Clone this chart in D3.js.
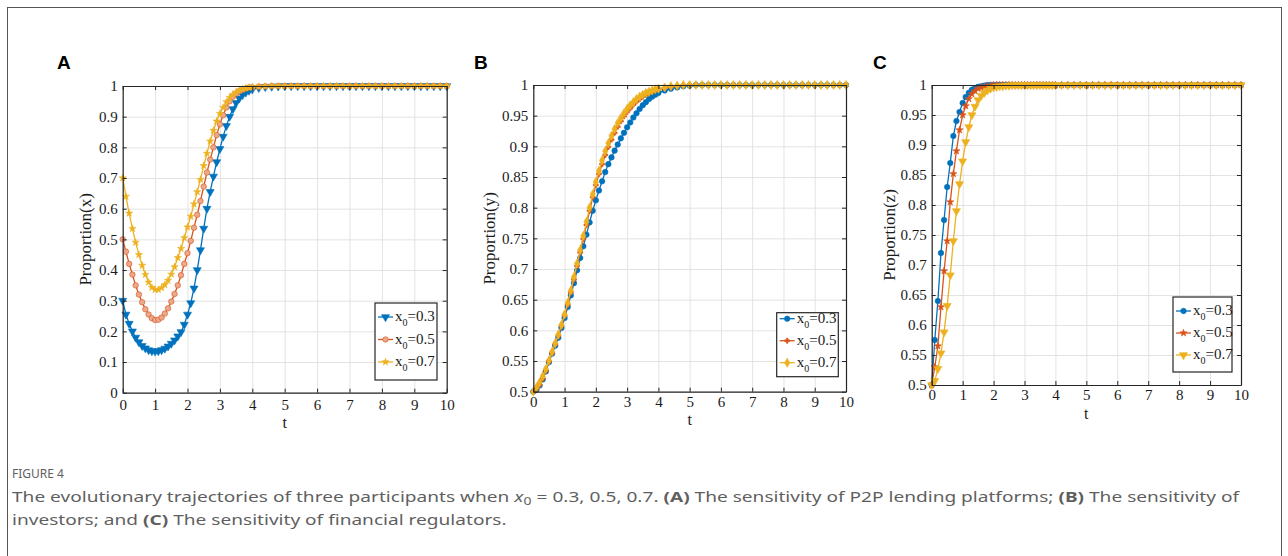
<!DOCTYPE html>
<html>
<head>
<meta charset="utf-8">
<script src="https://cdn.jsdelivr.net/npm/d3@7"></script>
<style>
  body { margin: 0; background: #fff; }
  svg { display: block; }
</style>
</head>
<body>
<div id="chart"></div>
<script>
// time points of the solver output (shared by every series)
var tGrid = [0,0.1,0.2,0.3,0.4,0.5,0.6,0.7,0.8,0.9,1,1.1,1.2,1.3,1.4,1.5,1.6,1.7,1.8,1.9,
  2,2.1,2.2,2.3,2.4,2.5,2.6,2.7,2.8,2.9,3,3.1,3.2,3.3,3.4,3.5,3.6,3.7,3.8,3.9,4,
  4.2,4.4,4.6,4.8,5,5.2,5.4,5.6,5.8,6,6.2,6.4,6.6,6.8,7,7.2,7.4,7.6,7.8,8,
  8.2,8.4,8.6,8.8,9,9.2,9.4,9.6,9.8,10];

var legendLabels = ["0.3", "0.5", "0.7"];
var tTicks = [0,1,2,3,4,5,6,7,8,9,10];
var yTicksA = [0,0.1,0.2,0.3,0.4,0.5,0.6,0.7,0.8,0.9,1];
var yTicksBC = [0.5,0.55,0.6,0.65,0.7,0.75,0.8,0.85,0.9,0.95,1];

// (A) Proportion(x)
var aX03 = [0.30,0.255,0.225,0.2,0.18,0.165,0.153,0.145,0.139,0.136,0.135,0.136,0.139,0.144,0.151,0.16,0.171,0.184,0.198,0.222,
  0.255,0.292,0.34,0.40,0.465,0.535,0.60,0.655,0.705,0.752,0.795,0.835,0.87,0.90,0.925,0.945,0.96,0.971,0.979,0.985,0.989,
  0.994,0.997,0.998,0.999,1,1,1,1,1,1,1,1,1,1,1,1,1,1,1,1,1,1,1,1,1,1,1,1,1,1];
var aX05 = [0.5,0.46,0.42,0.385,0.35,0.32,0.295,0.272,0.255,0.243,0.237,0.238,0.245,0.258,0.275,0.297,0.322,0.35,0.383,0.42,
  0.455,0.495,0.538,0.58,0.625,0.672,0.718,0.76,0.80,0.84,0.875,0.905,0.93,0.95,0.965,0.975,0.983,0.988,0.992,0.995,0.996,
  0.998,0.999,1,1,1,1,1,1,1,1,1,1,1,1,1,1,1,1,1,1,1,1,1,1,1,1,1,1,1,1];
var aX07 = [0.7,0.64,0.585,0.535,0.49,0.45,0.415,0.385,0.36,0.343,0.336,0.336,0.342,0.352,0.366,0.386,0.41,0.44,0.47,0.505,
  0.54,0.575,0.615,0.655,0.695,0.74,0.78,0.82,0.855,0.885,0.91,0.93,0.948,0.962,0.972,0.98,0.986,0.99,0.993,0.995,0.997,
  0.998,0.999,1,1,1,1,1,1,1,1,1,1,1,1,1,1,1,1,1,1,1,1,1,1,1,1,1,1,1,1];

// (B) Proportion(y)
var bX03 = [0.5,0.503,0.51,0.52,0.533,0.548,0.562,0.575,0.588,0.604,0.62,0.638,0.657,0.677,0.698,0.718,0.737,0.756,0.776,0.795,
  0.812,0.828,0.843,0.858,0.871,0.882,0.893,0.903,0.913,0.922,0.931,0.939,0.947,0.954,0.961,0.967,0.972,0.977,0.981,0.984,0.987,
  0.991,0.994,0.996,0.998,0.999,1,1,1,1,1,1,1,1,1,1,1,1,1,1,1,1,1,1,1,1,1,1,1,1,1];
var bX05 = [0.5,0.504,0.511,0.521,0.534,0.549,0.563,0.577,0.591,0.607,0.624,0.642,0.662,0.683,0.705,0.727,0.749,0.772,0.795,0.817,
  0.837,0.855,0.871,0.886,0.899,0.911,0.922,0.932,0.941,0.949,0.956,0.962,0.968,0.973,0.977,0.981,0.984,0.987,0.989,0.991,0.993,
  0.995,0.997,0.998,0.999,1,1,1,1,1,1,1,1,1,1,1,1,1,1,1,1,1,1,1,1,1,1,1,1,1,1];
var bX07 = [0.5,0.507,0.515,0.525,0.537,0.551,0.565,0.579,0.593,0.609,0.626,0.645,0.665,0.687,0.709,0.731,0.754,0.777,0.80,0.822,
  0.842,0.86,0.877,0.892,0.905,0.917,0.928,0.938,0.946,0.954,0.961,0.967,0.972,0.977,0.981,0.984,0.987,0.989,0.991,0.993,0.994,
  0.996,0.998,0.999,1,1,1,1,1,1,1,1,1,1,1,1,1,1,1,1,1,1,1,1,1,1,1,1,1,1,1];

// (C) Proportion(z)
var cX03 = [0.5,0.575,0.64,0.72,0.775,0.83,0.87,0.915,0.94,0.955,0.97,0.98,0.987,0.992,0.995,0.997,0.998,0.999,1,1,
  1,1,1,1,1,1,1,1,1,1,1,1,1,1,1,1,1,1,1,1,1,
  1,1,1,1,1,1,1,1,1,1,1,1,1,1,1,1,1,1,1,1,1,1,1,1,1,1,1,1,1,1];
var cX05 = [0.5,0.53,0.565,0.63,0.69,0.74,0.805,0.852,0.89,0.925,0.95,0.965,0.977,0.985,0.99,0.994,0.996,0.997,0.998,0.999,
  1,1,1,1,1,1,1,1,1,1,1,1,1,1,1,1,1,1,1,1,1,
  1,1,1,1,1,1,1,1,1,1,1,1,1,1,1,1,1,1,1,1,1,1,1,1,1,1,1,1,1,1];
var cX07 = [0.5,0.507,0.527,0.553,0.588,0.632,0.683,0.74,0.79,0.835,0.873,0.905,0.93,0.95,0.964,0.975,0.982,0.987,0.991,0.994,
  0.996,0.997,0.998,0.998,0.999,0.999,1,1,1,1,1,1,1,1,1,1,1,1,1,1,1,
  1,1,1,1,1,1,1,1,1,1,1,1,1,1,1,1,1,1,1,1,1,1,1,1,1,1,1,1,1,1];

var colors = ["#0072BD", "#D95319", "#EDB120"];
var serif = "'Liberation Serif', 'Times New Roman', serif";

var W = 1288, H = 556;

var svg = d3.select("#chart").append("svg")
  .attr("width", W)
  .attr("height", H);

svg.append("rect").attr("width", W).attr("height", H).style("fill", "white");

// outer figure frame
svg.append("rect")
  .attr("x", 7.5).attr("y", 7.5)
  .attr("width", 1274).attr("height", 600)
  .style("fill", "none")
  .style("stroke", "#555")
  .style("stroke-width", 1);

function symbolFor(name) {
  if (name == "tri") return d3.symbol().type(d3.symbolTriangle).size(28);
  if (name == "circle") return d3.symbol().type(d3.symbolCircle).size(24);
  if (name == "star") return d3.symbol().type(d3.symbolStar).size(16);
  if (name == "diamond") return d3.symbol().type(d3.symbolDiamond).size(24);
  if (name == "cross") return d3.symbol().type(d3.symbolCross).size(14);
  return d3.symbol().type(d3.symbolCircle).size(16);
}

function drawMarker(g, name, color, x, y) {
  g.append("path")
    .attr("d", symbolFor(name)())
    .attr("transform", "translate(" + x + "," + y + ")" + (name == "tri" ? " rotate(180)" : ""))
    .style("fill", name == "circle" && color == colors[1] ? "#eaa98a" : color)
    .style("stroke", color)
    .style("stroke-width", 0.6);
}

function panel(cfg) {
  var x = d3.scaleLinear().domain([0, 10]).range([cfg.left, cfg.right]);
  var y = d3.scaleLinear().domain(cfg.yDomain).range([cfg.bottom, cfg.top]);
  var w = cfg.right - cfg.left, h = cfg.bottom - cfg.top;

  var g = svg.append("g");

  // grid
  g.append("g")
    .attr("transform", "translate(0," + cfg.bottom + ")")
    .call(d3.axisBottom(x).tickValues(tTicks).tickSize(-h).tickFormat(""))
    .call(function(s) { s.select(".domain").remove(); })
    .selectAll("line").style("stroke", "#e3e3e3");
  g.append("g")
    .attr("transform", "translate(" + cfg.left + ",0)")
    .call(d3.axisLeft(y).tickValues(cfg.yTicks).tickSize(-w).tickFormat(""))
    .call(function(s) { s.select(".domain").remove(); })
    .selectAll("line").style("stroke", "#e3e3e3");

  // series
  var line = d3.line()
    .x(function(d) { return x(d[0]); })
    .y(function(d) { return y(d[1]); });

  cfg.series.forEach(function(vals, i) {
    var pts = tGrid.map(function(t, j) { return [t, vals[j]]; });
    g.append("path")
      .datum(pts)
      .attr("d", line)
      .style("fill", "none")
      .style("stroke", colors[i])
      .style("stroke-width", 1.3);
    var mk = g.append("g");
    pts.forEach(function(p) {
      drawMarker(mk, cfg.markers[i], colors[i], x(p[0]), y(p[1]));
    });
  });

  // axes with inward ticks on all four sides
  var axL = g.append("g")
    .attr("transform", "translate(" + cfg.left + ",0)")
    .call(d3.axisLeft(y).tickValues(cfg.yTicks).tickSizeInner(-4).tickSizeOuter(0).tickPadding(cfg.yPad)
      .tickFormat(function(d) { return String(+d.toFixed(2)); }));
  var axB = g.append("g")
    .attr("transform", "translate(0," + cfg.bottom + ")")
    .call(d3.axisBottom(x).tickValues(tTicks).tickSizeInner(-4).tickSizeOuter(0).tickPadding(cfg.xPad));
  var axR = g.append("g")
    .attr("transform", "translate(" + cfg.right + ",0)")
    .call(d3.axisRight(y).tickValues(cfg.yTicks).tickSizeInner(-4).tickSizeOuter(0).tickFormat(""));
  var axT = g.append("g")
    .attr("transform", "translate(0," + cfg.top + ")")
    .call(d3.axisTop(x).tickValues(tTicks).tickSizeInner(-4).tickSizeOuter(0).tickFormat(""));

  [axL, axB, axR, axT].forEach(function(a) {
    a.select(".domain").style("stroke", "#262626").style("stroke-width", 1.2);
    a.selectAll("line").style("stroke", "#262626");
    a.selectAll("text")
      .style("font-family", serif)
      .style("font-size", "15px")
      .style("fill", "#1a1a1a");
  });

  // axis labels
  g.append("text")
    .attr("transform", "translate(" + cfg.yLabelX + "," + ((cfg.top + cfg.bottom) / 2) + ") rotate(-90)")
    .attr("text-anchor", "middle")
    .style("font-family", serif)
    .style("font-size", "17px")
    .style("fill", "#1a1a1a")
    .text(cfg.yLabel);

  g.append("text")
    .attr("x", (cfg.left + cfg.right) / 2)
    .attr("y", cfg.tLabelY)
    .attr("text-anchor", "middle")
    .style("font-family", serif)
    .style("font-size", "16px")
    .style("fill", "#1a1a1a")
    .text("t");

  // panel letter
  svg.append("text")
    .attr("x", cfg.letterX)
    .attr("y", 69)
    .style("font-family", "'Liberation Sans', Arial, sans-serif")
    .style("font-weight", "bold")
    .style("font-size", "19px")
    .text(cfg.letter);

  // legend
  var lg = g.append("g");
  lg.append("rect")
    .attr("x", cfg.legend[0]).attr("y", cfg.legend[1])
    .attr("width", cfg.legend[2]).attr("height", cfg.legend[3])
    .style("fill", "white")
    .style("stroke", "#262626")
    .style("stroke-width", 1.2);
  legendLabels.forEach(function(lab, i) {
    var ly = cfg.legend[1] + cfg.legendPad + i * cfg.legendStep;
    var lx = cfg.legend[0] + 3;
    lg.append("line")
      .attr("x1", lx).attr("x2", lx + 15)
      .attr("y1", ly).attr("y2", ly)
      .style("stroke", colors[i])
      .style("stroke-width", 1.3);
    drawMarker(lg, cfg.markers[i], colors[i], lx + 7.5, ly);
    var tx = lg.append("text")
      .attr("x", lx + 17)
      .attr("y", ly + 4)
      .style("font-family", serif)
      .style("font-size", "15px")
      .style("fill", "#1a1a1a");
    tx.append("tspan").text("x");
    tx.append("tspan").attr("dy", 5).style("font-size", "10px").text("0");
    tx.append("tspan").attr("dy", -5).text("=" + lab);
  });
}

panel({
  letter: "A", letterX: 57,
  left: 122.7, right: 446.7, top: 86, bottom: 392.7,
  yDomain: [0, 1], yTicks: yTicksA, yPad: 5, xPad: 7,
  yLabel: "Proportion(x)", yLabelX: 91, tLabelY: 428,
  series: [aX03, aX05, aX07],
  markers: ["tri", "circle", "star"],
  legend: [375, 303, 62, 77], legendPad: 14, legendStep: 22.5
});

panel({
  letter: "B", letterX: 474,
  left: 533.3, right: 846, top: 85, bottom: 391.7,
  yDomain: [0.5, 1], yTicks: yTicksBC, yPad: 5, xPad: 5,
  yLabel: "Proportion(y)", yLabelX: 495, tLabelY: 425,
  series: [bX03, bX05, bX07],
  markers: ["circle", "cross", "diamond"],
  legend: [776.7, 312.7, 61.6, 64], legendPad: 6, legendStep: 22
});

panel({
  letter: "C", letterX: 873,
  left: 931.7, right: 1241, top: 85, bottom: 385,
  yDomain: [0.5, 1], yTicks: yTicksBC, yPad: 5, xPad: 4,
  yLabel: "Proportion(z)", yLabelX: 895, tLabelY: 419,
  series: [cX03, cX05, cX07],
  markers: ["circle", "star", "tri"],
  legend: [1173, 297, 59, 75], legendPad: 14, legendStep: 22
});

// caption
var capColor = "#5f5f5f";
var sans = "'Noto Sans', 'Open Sans', sans-serif";

svg.append("text")
  .attr("x", 12).attr("y", 478)
  .style("font-family", sans)
  .style("font-size", "12px")
  .style("fill", capColor)
  .text("FIGURE 4");

var cap1 = svg.append("text")
  .attr("y", 502)
  .style("font-family", sans)
  .style("font-size", "15px")
  .style("fill", capColor);
cap1.append("tspan").text("The evolutionary trajectories of three participants when ");
cap1.append("tspan").style("font-style", "italic").text("x");
cap1.append("tspan").attr("dy", 3).style("font-size", "11px").text("0");
cap1.append("tspan").attr("dy", -3).text(" = 0.3,  0.5,  0.7. ");
cap1.append("tspan").style("font-weight", "bold").text("(A)");
cap1.append("tspan").text(" The sensitivity of P2P lending platforms; ");
cap1.append("tspan").style("font-weight", "bold").text("(B)");
cap1.append("tspan").text(" The sensitivity of");

var cap2 = svg.append("text")
  .attr("y", 525)
  .style("font-family", sans)
  .style("font-size", "15px")
  .style("fill", capColor);
cap2.append("tspan").text("investors; and ");
cap2.append("tspan").style("font-weight", "bold").text("(C)");
cap2.append("tspan").text(" The sensitivity of financial regulators.");

// squeeze caption horizontally to the width it takes in the figure
var k = 1228 / cap1.node().getComputedTextLength();
[cap1, cap2].forEach(function(c) {
  c.attr("transform", "translate(12,0) scale(" + k + ",1)");
});
</script>
</body>
</html>
